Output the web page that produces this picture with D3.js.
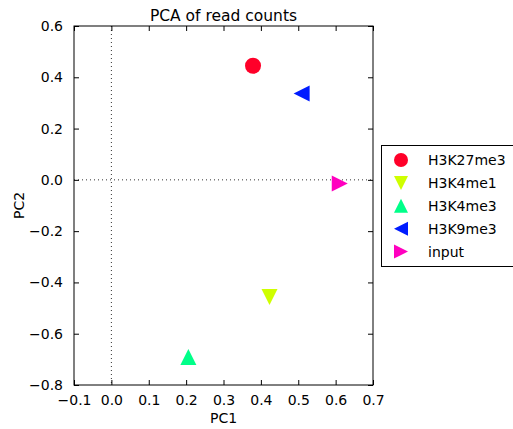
<!DOCTYPE html>
<html>
<head>
<meta charset="utf-8">
<script src="https://cdn.jsdelivr.net/npm/d3@7"></script>
<style>
  html, body { margin: 0; padding: 0; background: #fff; }
  svg { display: block; font-family: "DejaVu Sans", sans-serif; }
</style>
</head>
<body>
<svg id="chart" width="513" height="429"></svg>
<script>
// Samples projected onto the first two principal components
const samples = ["H3K27me3", "H3K4me1", "H3K4me3", "H3K9me3", "input"];
const pc1 = [0.379, 0.423, 0.206, 0.509, 0.611];
const pc2 = [0.445, -0.457, -0.691, 0.337, -0.014];
const colors = ["#ff0029", "#cfff00", "#00ff89", "#001cff", "#ff00bf"];
const shapes = ["circle", "down", "up", "left", "right"];
const xTicks = [-0.1, 0.0, 0.1, 0.2, 0.3, 0.4, 0.5, 0.6, 0.7];
const yTicks = [-0.8, -0.6, -0.4, -0.2, 0.0, 0.2, 0.4, 0.6];

const svg = d3.select("#chart");
const m = { left: 74, right: 373, top: 26, bottom: 385 };

const x = d3.scaleLinear().domain([-0.1, 0.7]).range([m.left, m.right]);
const y = d3.scaleLinear().domain([-0.8, 0.6]).range([m.bottom, m.top]);

const fmt = v => d3.format(".1f")(v).replace("-", "\u2212");
const tickLen = 5;

// marker path generator, each shape ~16px across
function markerPath(shape, r) {
  if (shape === "circle") {
    return d3.symbol(d3.symbolCircle, Math.PI * r * r)();
  }
  const pts = {
    up:    [[0, -r], [-r, r], [r, r]],
    down:  [[0, r], [-r, -r], [r, -r]],
    left:  [[-r, 0], [r, -r], [r, r]],
    right: [[r, 0], [-r, -r], [-r, r]]
  }[shape];
  return "M" + pts.map(p => p.join(",")).join("L") + "Z";
}

// zero reference lines
svg.append("line")
  .attr("x1", x(0)).attr("x2", x(0)).attr("y1", m.top).attr("y2", m.bottom)
  .attr("stroke", "#333").attr("stroke-width", 1).attr("stroke-dasharray", "1,3");
svg.append("line")
  .attr("x1", m.left).attr("x2", m.right).attr("y1", y(0)).attr("y2", y(0))
  .attr("stroke", "#333").attr("stroke-width", 1).attr("stroke-dasharray", "1,3");

// axes with inward ticks on all four sides
const bottomAxis = d3.axisBottom(x).tickValues(xTicks).tickFormat(fmt).tickSizeInner(-tickLen).tickSizeOuter(0).tickPadding(10);
const topAxis = d3.axisTop(x).tickValues(xTicks).tickFormat("").tickSizeInner(-tickLen).tickSizeOuter(0);
const leftAxis = d3.axisLeft(y).tickValues(yTicks).tickFormat(fmt).tickSizeInner(-tickLen).tickSizeOuter(0).tickPadding(11);
const rightAxis = d3.axisRight(y).tickValues(yTicks).tickFormat("").tickSizeInner(-tickLen).tickSizeOuter(0);

function styleAxis(g) {
  g.select(".domain").remove();
  g.selectAll(".tick line").attr("stroke", "#000");
  g.selectAll(".tick text").attr("fill", "#000").style("font-size", "14px").style("font-family", "DejaVu Sans");
}
svg.append("g").attr("transform", `translate(0,${m.bottom})`).call(bottomAxis).call(styleAxis);
svg.append("g").attr("transform", `translate(0,${m.top})`).call(topAxis).call(styleAxis);
svg.append("g").attr("transform", `translate(${m.left},0)`).call(leftAxis).call(styleAxis);
svg.append("g").attr("transform", `translate(${m.right},0)`).call(rightAxis).call(styleAxis);

// frame
svg.append("rect")
  .attr("x", m.left).attr("y", m.top)
  .attr("width", m.right - m.left).attr("height", m.bottom - m.top)
  .attr("fill", "none").attr("stroke", "#000").attr("stroke-width", 1);

// points
svg.append("g").selectAll("path")
  .data(samples)
  .join("path")
  .attr("transform", (d, i) => `translate(${x(pc1[i])},${y(pc2[i])})`)
  .attr("d", (d, i) => markerPath(shapes[i], 8))
  .attr("fill", (d, i) => colors[i]);

// title and axis labels
svg.append("text")
  .attr("x", (m.left + m.right) / 2).attr("y", 21)
  .attr("text-anchor", "middle").style("font-size", "15.5px")
  .text("PCA of read counts");
svg.append("text")
  .attr("x", (m.left + m.right) / 2).attr("y", 423)
  .attr("text-anchor", "middle").style("font-size", "14px")
  .text("PC1");
svg.append("text")
  .attr("transform", `translate(24,${(m.top + m.bottom) / 2}) rotate(-90)`)
  .attr("text-anchor", "middle").style("font-size", "14px")
  .text("PC2");

// legend
const legend = svg.append("g");
legend.append("rect")
  .attr("x", 381.5).attr("y", 145.5).attr("width", 140).attr("height", 121)
  .attr("fill", "#fff").attr("stroke", "#000").attr("stroke-width", 1);
const rows = legend.selectAll("g.row")
  .data(samples)
  .join("g")
  .attr("class", "row")
  .attr("transform", (d, i) => `translate(0,${160 + i * 22.9})`);
rows.append("path")
  .attr("transform", "translate(401,0)")
  .attr("d", (d, i) => markerPath(shapes[i], 7))
  .attr("fill", (d, i) => colors[i]);
rows.append("text")
  .attr("x", 428).attr("y", 5)
  .style("font-size", "14px")
  .text(d => d);
</script>
</body>
</html>
